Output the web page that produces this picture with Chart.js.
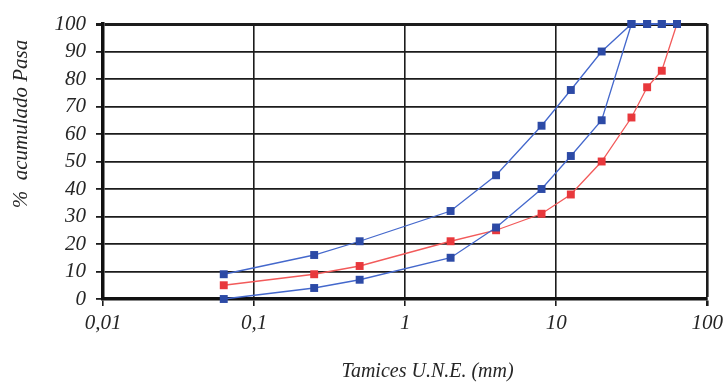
<!DOCTYPE html>
<html>
<head>
<meta charset="utf-8">
<script src="https://cdn.jsdelivr.net/npm/chart.js@4"></script>
<style>
  html, body { margin: 0; padding: 0; background: #fff; }
  #wrap { width: 728px; height: 384px; }
</style>
</head>
<body>
<div id="wrap"><canvas id="curvas" width="728" height="384"></canvas></div>
<script>
// tamices UNE (mm) y % que pasa por cada uno
const tamices = [0.063, 0.25, 0.5, 2, 4, 8, 12.5, 20, 31.5, 40, 50, 63];
const husoSuperior = [9, 16, 21, 32, 45, 63, 76, 90, 100, 100, 100, 100];
const husoInferior = [0, 4, 7, 15, 26, 40, 52, 65, 100, 100, 100, 100];
const muestra = [5, 9, 12, 21, 25, 31, 38, 50, 66, 77, 83, 100];
const decadas = [0.01, 0.1, 1, 10, 100];

const azul = "#2c4aa6";
const azulLinea = "#4468cc";
const rojo = "#e8383c";
const rojoLinea = "#f25a5a";

function puntos(valores) {
  return tamices.map((t, i) => ({ x: t, y: valores[i] }));
}

function serie(label, valores, punto, linea) {
  return {
    label: label,
    data: puntos(valores),
    borderColor: linea,
    borderWidth: 1.3,
    backgroundColor: punto,
    pointBackgroundColor: punto,
    pointBorderColor: punto,
    pointBorderWidth: 0,
    pointStyle: "rect",
    pointRadius: 5.6,
    tension: 0,
    clip: false,
  };
}

const fuente = "'Liberation Serif', 'DejaVu Serif', serif";

// los husos azules van delante de la muestra roja
const ctx = document.getElementById("curvas");
new Chart(ctx, {
  type: "line",
  data: {
    datasets: [
      serie("Huso superior", husoSuperior, azul, azulLinea),
      serie("Huso inferior", husoInferior, azul, azulLinea),
      serie("Muestra", muestra, rojo, rojoLinea),
    ],
  },
  options: {
    responsive: false,
    animation: false,
    layout: {
      padding: { left: 0, right: 19, top: 24, bottom: 0 },
    },
    plugins: {
      legend: { display: false },
      tooltip: { enabled: false },
    },
    scales: {
      x: {
        type: "logarithmic",
        min: 0.01,
        max: 100,
        afterBuildTicks: (scale) => {
          scale.ticks = decadas.map((v) => ({ value: v }));
        },
        afterFit: (scale) => {
          scale.height = 85;
        },
        ticks: {
          autoSkip: false,
          maxRotation: 0,
          padding: 5,
          color: "#262626",
          font: { family: fuente, size: 21, style: "italic" },
          callback: (v) => String(v).replace(".", ","),
        },
        grid: {
          color: "#1c1c1c",
          lineWidth: (c) => (c.tick && c.tick.value === 100 ? 2.6 : 1.6),
          tickLength: 7,
        },
        border: { color: "#111", width: 3.5 },
        title: {
          display: true,
          text: "         Tamices U.N.E. (mm)",
          color: "#262626",
          font: { family: fuente, size: 20, style: "italic" },
          padding: { top: 0, bottom: 0 },
        },
      },
      y: {
        min: 0,
        max: 100,
        afterFit: (scale) => {
          scale.width = 103;
        },
        ticks: {
          stepSize: 10,
          autoSkip: false,
          padding: 10,
          color: "#262626",
          font: { family: fuente, size: 21, style: "italic" },
        },
        grid: {
          color: "#1c1c1c",
          lineWidth: (c) => (c.tick && c.tick.value === 100 ? 3 : 1.8),
          tickLength: 7,
        },
        border: { color: "#111", width: 3.5 },
        title: {
          display: true,
          align: "end",
          text: "%  acumulado Pasa   ",
          color: "#262626",
          font: { family: fuente, size: 21, style: "italic" },
          padding: { top: 9, bottom: 0 },
        },
      },
    },
  },
});
</script>
</body>
</html>
